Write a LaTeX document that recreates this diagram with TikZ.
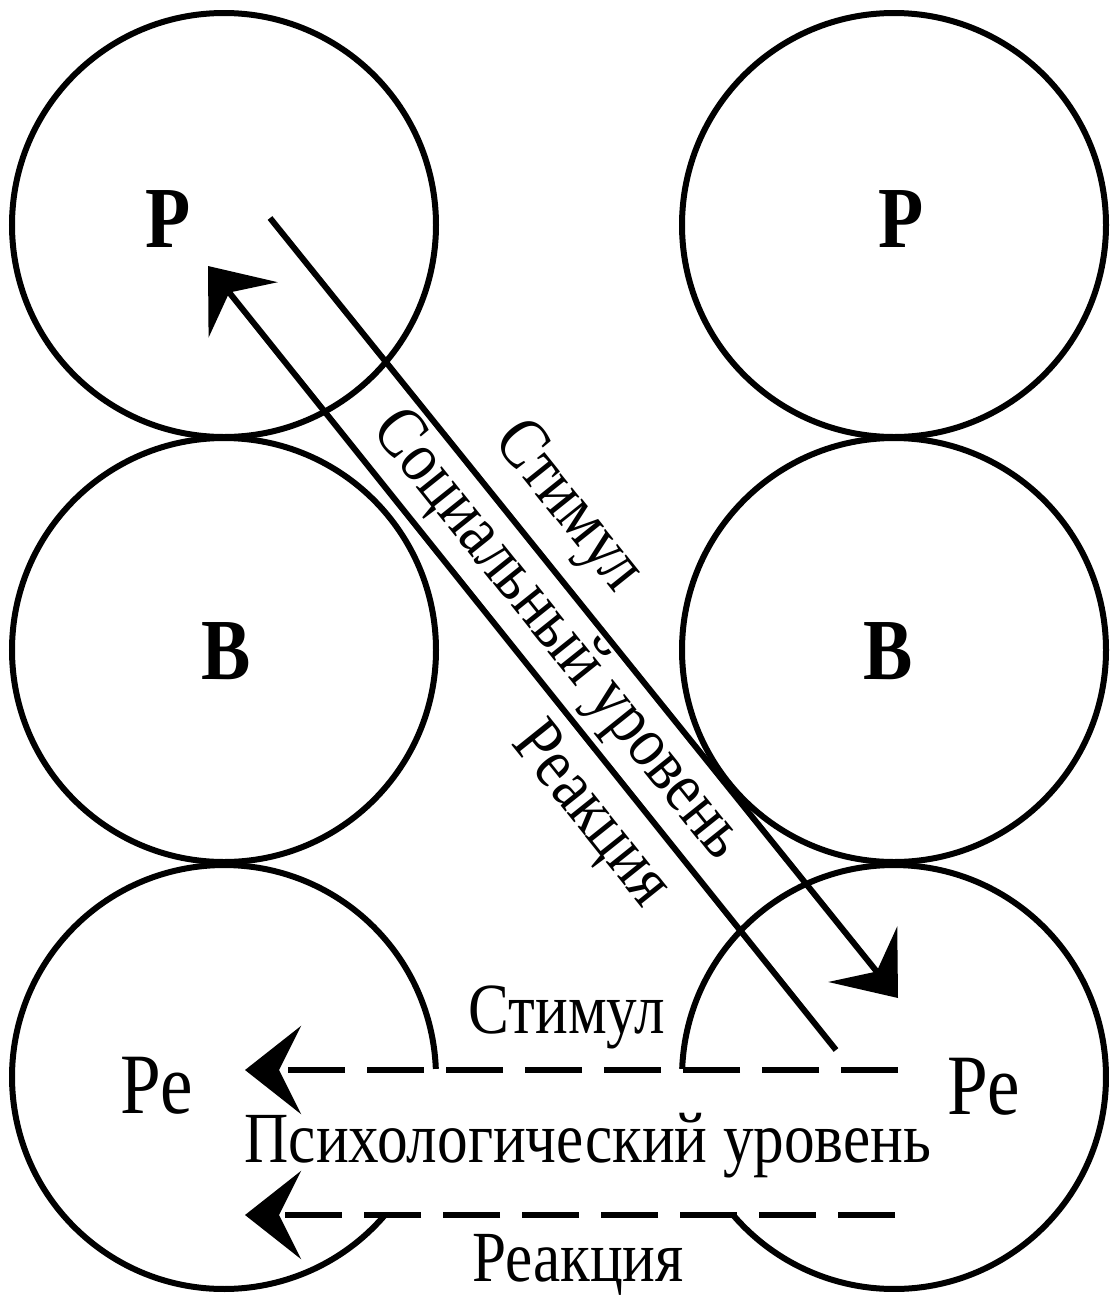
\documentclass[tikz,border=0pt]{standalone}
\usepackage{fontspec}
\setmainfont{Liberation Serif}[FakeStretch=0.85]
\usetikzlibrary{arrows.meta}

\begin{document}
\begin{tikzpicture}[x=1pt,y=-1pt,line width=6pt,
  >={Stealth[length=56pt,width=88pt,inset=22pt]},
  egostate/.style={font=\fontsize{87}{90}\selectfont\bfseries},
  childstate/.style={font=\fontsize{86}{90}\selectfont},
  lbl/.style={font=\fontsize{72}{80}\selectfont},
  levelline/.style={dash pattern=on 57pt off 22pt}]
  \fill[white] (0,0) rectangle (1110,1296);
  \useasboundingbox (0,0) rectangle (1110,1296);

  % Р and В circles
  \draw (224,225) circle (212);
  \draw (894,225) circle (212);
  \draw (224,650) circle (212);
  \draw (894,650) circle (212);
  % Ре circles, open towards the psychological level
  \draw (224,1077) ++(40.6:212) arc[start angle=40.6,end angle=357.8,radius=212];
  \draw (894,1077) ++(182.2:212) arc[start angle=182.2,end angle=499.4,radius=212];

  \node[egostate,anchor=base] (p1) at (168,247) {Р};
  \node[egostate,anchor=base] (p2) at (901,247) {Р};
  \node[egostate,anchor=base] (b1) at (226,679) {В};
  \node[egostate,anchor=base] (b2) at (888,679) {В};
  \node[childstate,anchor=base] (c1) at (157,1113) {Ре};
  \node[childstate,anchor=base] (c2) at (984,1114) {Ре};

  % social level
  \coordinate (socS1) at (270,218);
  \coordinate (socS2) at (898,998);
  \coordinate (socR1) at (836,1050);
  \coordinate (socR2) at (208,266);
  \draw[->] (socS1) -- (socS2);
  \draw[->] (socR1) -- (socR2);
  \node[lbl,rotate=-51.3] (socstim) at (567,508) {Стимул};
  \node[lbl,rotate=-51.3] (soclevel) at (557,636) {Социальный уровень};
  \node[lbl,rotate=-51.3] (socreac) at (590,816) {Реакция};

  % psychological level
  \coordinate (psyS1) at (898,1070);
  \coordinate (psyS2) at (245,1070);
  \coordinate (psyR1) at (895,1215);
  \coordinate (psyR2) at (245,1215);
  \draw[->,levelline] (psyS1) -- (psyS2);
  \draw[->,levelline] (psyR1) -- (psyR2);
  \node[lbl,anchor=base] (psystim) at (567,1033) {Стимул};
  \node[lbl,anchor=base] (psylevel) at (588,1162) {Психологический уровень};
  \node[lbl,anchor=base] (psyreac) at (578,1281) {Реакция};
\end{tikzpicture}
\end{document}
